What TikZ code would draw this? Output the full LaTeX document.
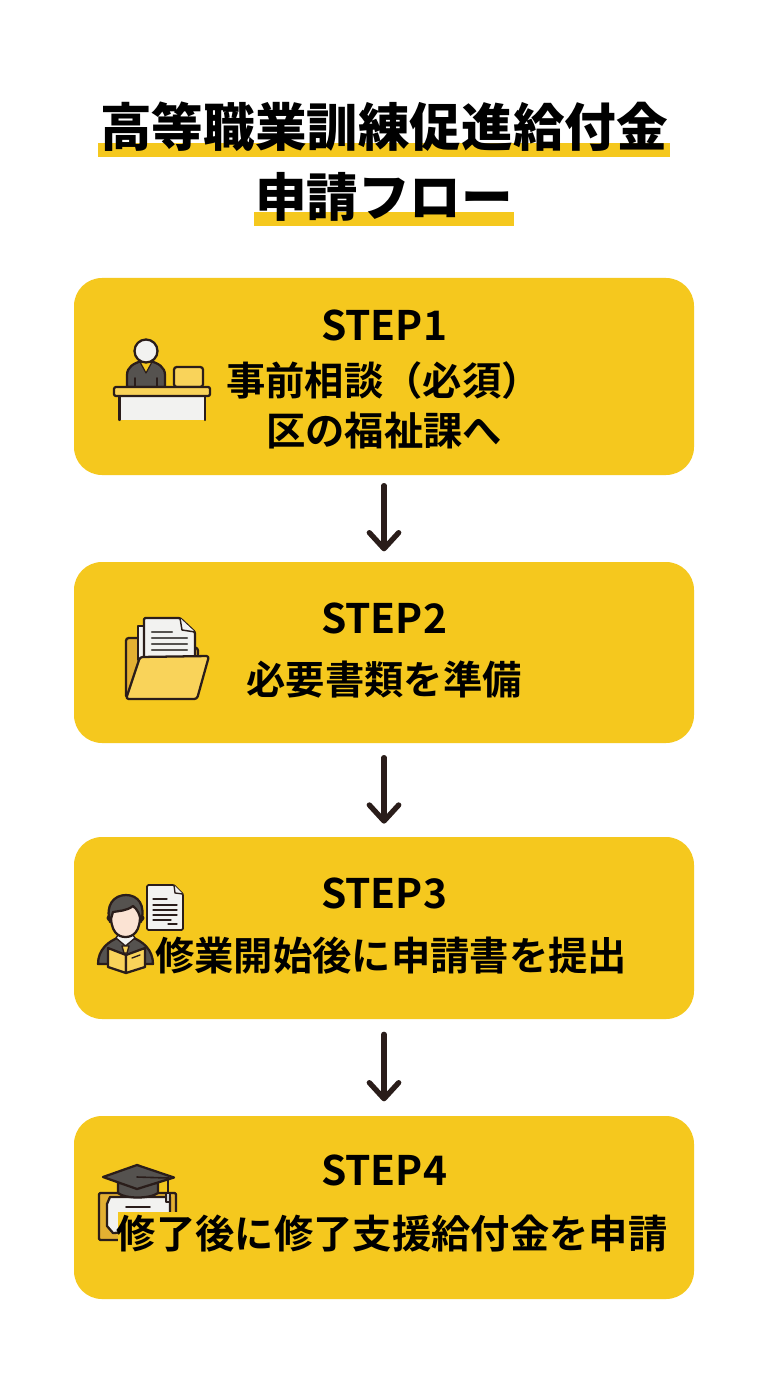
\documentclass[tikz,border=0pt]{standalone}
\usepackage{fontspec}
\setmainfont{Noto Sans CJK JP}[BoldFont=* Bold]
\newfontfamily\heavyfont{Noto Sans CJK JP Black}
\usetikzlibrary{arrows.meta}
\definecolor{boxy}{HTML}{F5C81E}
\definecolor{ink}{HTML}{2A1D1A}
\definecolor{lighty}{HTML}{F9D35A}
\definecolor{darky}{HTML}{E3B032}
\definecolor{grayd}{HTML}{55524F}
\definecolor{paper}{HTML}{F2F2F0}
\definecolor{skin}{HTML}{FBE3D3}
\tikzset{
  stepcard/.style={fill=boxy,draw=none,rounded corners=21pt,minimum width=465pt,inner sep=0pt,outer sep=0pt},
  steptitle/.style={font=\fontsize{30.5}{30.5}\selectfont\bfseries,text=black,inner sep=0pt},
  steptext/.style={font=\fontsize{29.5}{29.5}\selectfont\bfseries,text=black,inner sep=0pt},
  headtext/.style={font=\fontsize{38.7}{38.7}\selectfont\heavyfont,text=black,inner sep=0pt},
  flowarrow/.style={draw=ink,line width=4pt,line cap=round,
    -{Straight Barb[length=12pt,width=22pt,line width=4pt,round]}},
  icon/.style={draw=ink,line width=1.7pt,line join=round,line cap=round},
  iconthin/.style={draw=ink,line width=1.2pt,line cap=round}
}
\begin{document}
\begin{tikzpicture}[x=0.75pt,y=-0.75pt]
\useasboundingbox (0,0) rectangle (768,1376);
\fill[white] (0,0) rectangle (768,1376);
% title
\fill[boxy] (98,143) rectangle (670,157);
\fill[boxy] (254,212) rectangle (514,226);
\node[headtext] (t1) at (384,127) {高等職業訓練促進給付金};
\node[headtext] (t2) at (384,197) {申請フロー};
% cards
\node[stepcard,minimum height=147.75pt] (s1) at (384,376.5) {};
\node[stepcard,minimum height=135.75pt] (s2) at (384,652.5) {};
\node[stepcard,minimum height=136.5pt] (s3) at (384,928) {};
\node[stepcard,minimum height=137.25pt] (s4) at (384,1207.5) {};
% arrows
\draw[flowarrow,shorten <=8pt,shorten >=8pt] (s1) -- (s2);
\draw[flowarrow,shorten <=11pt,shorten >=10pt] (s2) -- (s3);
\draw[flowarrow,shorten <=11.5pt,shorten >=11pt] (s3) -- (s4);
% icon 1: desk
\begin{scope}
\path[icon,fill=grayd] (127,387) -- (127,375) .. controls (127,367) and (134,363) .. (142,361) -- (150,361) .. controls (158,363) and (165,367) .. (165,375) -- (165,387) -- cycle;
\path[icon,fill=boxy,line width=.9pt] (140,362) -- (146,373) -- (152,362) -- cycle;
\draw[iconthin] (135,378) -- (135,387) (157,378) -- (157,387);
\path[icon,fill=paper] (146,351) circle (11.5);
\path[icon,fill=lighty,rounded corners=2pt] (174,387) -- (174,367) -- (203,367) -- (203,387) -- cycle;
\fill[paper] (119.5,395) rectangle (205,420);
\draw[icon] (119.5,395) -- (119.5,420) (205,395) -- (205,420);
\path[icon,fill=lighty,rounded corners=1.5pt] (114,387) rectangle (210,396);
\end{scope}
% icon 2: folder
\begin{scope}
\path[icon,fill=darky,rounded corners=2pt] (126,698) -- (126,638) -- (143,638) -- (198,648) -- (198,660) -- (140,690) -- cycle;
\path[icon,fill=paper] (138,626) -- (145,626) -- (145,660) -- (138,660) -- cycle;
\path[icon,fill=paper,rounded corners=1pt] (144,660) -- (144,618) -- (180,618) -- (195,632) -- (195,660) -- cycle;
\path[icon,fill=paper,line width=1.1pt] (180,618) -- (182,630) -- (195,632);
\draw[iconthin,draw=grayd,line width=1.6pt] (152,632) -- (172,632) (152,638) -- (187,638) (152,644) -- (187,644) (152,650) -- (187,650);
\path[icon,fill=lighty,rounded corners=2pt] (140,657) -- (209,656) -- (197,699) -- (126,699) -- cycle;
\end{scope}
% icon 3: student
\begin{scope}
\path[icon,fill=paper,rounded corners=1pt,line width=1.3pt] (147,885) -- (174,885) -- (183,894) -- (183,930) -- (147,930) -- cycle;
\path[icon,fill=paper,line width=1pt] (174,885) -- (175,893) -- (183,894);
\draw[iconthin,line width=1pt] (153,899) -- (167,899) (153,905) -- (177,905) (153,910) -- (177,910) (153,915) -- (177,915) (153,920) -- (171,920) (168,924) -- (177,924);
\path[icon,fill=grayd] (98,964) .. controls (98,950) and (108,941) .. (120,937) -- (131,937) .. controls (143,941) and (153,950) .. (153,964) -- cycle;
\path[icon,fill=paper,line width=1pt] (116,938) -- (125.5,946) -- (135,938) -- (131,932) -- (120,932) -- cycle;
\path[icon,fill=lighty,line width=1pt] (122,946) -- (129,946) -- (127,953) -- (124,953) -- cycle;
\path[icon,fill=skin,line width=1.2pt] (110,918) circle (2.6);
\path[icon,fill=skin,line width=1.2pt] (141,918) circle (2.6);
\path[icon,fill=skin] (111,912) .. controls (110,932) and (118,937) .. (125.5,937) .. controls (133,937) and (141,932) .. (140,912) -- (130,902) -- (118,902) -- cycle;
\path[icon,fill=grayd] (110,922) .. controls (105,905) and (114,895) .. (126,895) .. controls (138,895) and (146,905) .. (141,922) .. controls (140,914) and (137,909) .. (133,906) .. controls (127,911) and (118,911) .. (113,912) -- cycle;
\path[icon,fill=lighty] (108,948) -- (126,955) -- (126,973) -- (108,967) -- cycle;
\path[icon,fill=lighty] (145,948) -- (126,955) -- (126,973) -- (145,967) -- cycle;
\draw[iconthin,line width=1pt] (132,958) -- (140,955);
\end{scope}
% icon 4: cap + certificate
\begin{scope}
\path[icon,fill=darky,rounded corners=1pt] (99,1193) rectangle (176,1240);
\path[icon,fill=paper] (110,1197) -- (170,1197) -- (170,1230) -- (113,1233) -- (107,1226) -- (107,1204) -- cycle;
\draw[iconthin] (126,1207) -- (150,1207);
\fill[boxy] (118,1212) rectangle (196,1250);
\path[icon,fill=grayd] (118,1183) -- (118,1193) .. controls (125,1199) and (150,1199) .. (158,1193) -- (158,1183) -- cycle;
\path[icon,fill=grayd] (103,1177) -- (137,1165) -- (174,1177.5) -- (137,1189) -- cycle;
\draw[iconthin] (137,1177) -- (168,1178) -- (168,1193);
\path[icon,fill=paper!70!gray,line width=1pt] (166,1193) rectangle (170,1202);
\end{scope}
% texts
\node[steptitle] (l1) at (384,325) {STEP1};
\node[steptext,anchor=west] (l2) at (226,381) {事前相談（必須）};
\node[steptext] (l3) at (384,431) {区の福祉課へ};
\node[steptitle] (l4) at (384,618) {STEP2};
\node[steptext] (l5) at (384,680) {必要書類を準備};
\node[steptitle] (l6) at (384,893) {STEP3};
\node[steptext] (l7) at (391,956) {修業開始後に申請書を提出};
\node[steptitle] (l8) at (384,1170) {STEP4};
\node[steptext] (l9) at (392,1234) {修了後に修了支援給付金を申請};
\end{tikzpicture}
\end{document}
